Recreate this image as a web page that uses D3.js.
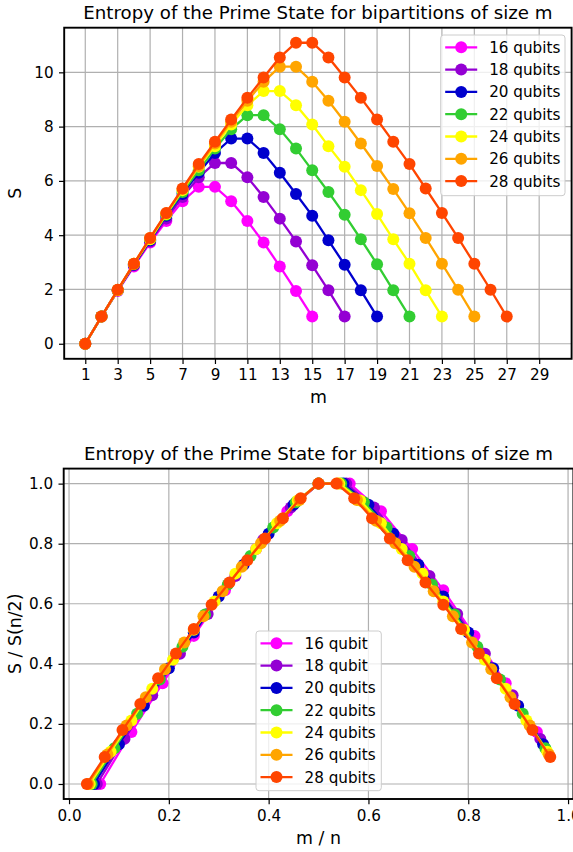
<!DOCTYPE html>
<html><head><meta charset="utf-8">
<script src="https://cdn.jsdelivr.net/npm/d3@7"></script>
<style>body{margin:0;background:#fff}svg{display:block}text{font-family:"DejaVu Sans",sans-serif;fill:#000}</style>
</head><body>
<svg id="chart" width="573" height="852"></svg>
<script>
// ---------- data ----------
const qubits = [16, 18, 20, 22, 24, 26, 28];
const colors = ["#ff00ff", "#9400d3", "#0000cd", "#32cd32", "#ffff00", "#ffa500", "#ff4500"];
const topLabels = ["16 qubits", "18 qubits", "20 qubits", "22 qubits", "24 qubits", "26 qubits", "28 qubits"];
const bottomLabels = ["16 qubit", "18 qubit", "20 qubits", "22 qubits", "24 qubits", "26 qubits", "28 qubits"];
// entropy S for m = 1 .. n-1
const S16 = [0, 1.00, 1.94, 2.85, 3.73, 4.52, 5.25, 5.78, 5.78, 5.25, 4.52, 3.73, 2.85, 1.94, 1.00];
const S18 = [0, 1.00, 1.97, 2.89, 3.77, 4.61, 5.41, 6.13, 6.66, 6.66, 6.13, 5.41, 4.61, 3.77, 2.89, 1.97, 1.00];
const S20 = [0, 1.00, 1.97, 2.91, 3.81, 4.72, 5.52, 6.30, 7.03, 7.56, 7.56, 7.03, 6.30, 5.52, 4.72, 3.81, 2.91, 1.97, 1.00];
const S22 = [0, 1.00, 1.97, 2.93, 3.85, 4.75, 5.59, 6.39, 7.19, 7.90, 8.42, 8.42, 7.90, 7.19, 6.39, 5.59, 4.75, 3.85, 2.93, 1.97, 1.00];
const S24 = [0, 1.00, 1.97, 2.95, 3.85, 4.78, 5.66, 6.52, 7.28, 8.08, 8.79, 9.31, 9.31, 8.79, 8.08, 7.28, 6.52, 5.66, 4.78, 3.85, 2.95, 1.97, 1.00];
const S26 = [0, 1.00, 1.99, 2.95, 3.90, 4.81, 5.70, 6.55, 7.38, 8.18, 8.95, 9.65, 10.21, 10.21, 9.65, 8.95, 8.18, 7.38, 6.55, 5.70, 4.81, 3.90, 2.95, 1.99, 1.00];
const S28 = [0, 1.00, 1.99, 2.95, 3.90, 4.82, 5.72, 6.62, 7.44, 8.26, 9.06, 9.81, 10.55, 11.09, 11.09, 10.55, 9.81, 9.06, 8.26, 7.44, 6.62, 5.72, 4.82, 3.90, 2.95, 1.99, 1.00];
const entropies = [S16, S18, S20, S22, S24, S26, S28];
const topXTicks = [1, 3, 5, 7, 9, 11, 13, 15, 17, 19, 21, 23, 25, 27, 29];
const topYTicks = [0, 2, 4, 6, 8, 10];
const botXTicks = [0.0, 0.2, 0.4, 0.6, 0.8, 1.0];
const botYTicks = [0.0, 0.2, 0.4, 0.6, 0.8, 1.0];
const titleText = "Entropy of the Prime State for bipartitions of size m";

// ---------- drawing ----------
const svg = d3.select("#chart");
const FS = 15.2;
const LFS = 17.4;

function panel(o) {
  const g = svg.append("g");
  const x = o.x, y = o.y;
  const [x0, x1] = x.range(), [y0, y1] = y.range(); // y0 bottom
  // grid
  g.append("g").selectAll("line").data(o.xt).join("line")
    .attr("x1", d => x(d)).attr("x2", d => x(d)).attr("y1", y1).attr("y2", y0)
    .attr("stroke", "#b0b0b0").attr("stroke-width", 1.2);
  g.append("g").selectAll("line").data(o.yt).join("line")
    .attr("y1", d => y(d)).attr("y2", d => y(d)).attr("x1", x0).attr("x2", x1)
    .attr("stroke", "#b0b0b0").attr("stroke-width", 1.2);
  // series
  o.series.forEach((s, i) => {
    const sg = g.append("g");
    sg.append("path").datum(s)
      .attr("d", d3.line().x(d => x(d[0])).y(d => y(d[1])))
      .attr("fill", "none").attr("stroke", colors[i]).attr("stroke-width", 2.3);
    sg.selectAll("circle").data(s).join("circle")
      .attr("cx", d => x(d[0])).attr("cy", d => y(d[1])).attr("r", 6)
      .attr("fill", colors[i]);
  });
  // axes (spines, ticks, labels)
  const xa = d3.axisBottom(x).tickValues(o.xt).tickFormat(o.xf).tickSize(5.2).tickPadding(5.6);
  const ya = d3.axisLeft(y).tickValues(o.yt).tickFormat(o.yf).tickSize(5.2).tickPadding(5.4);
  const gx = g.append("g").attr("transform", `translate(0,${y0})`).call(xa);
  const gy = g.append("g").attr("transform", `translate(${x0},0)`).call(ya);
  [gx, gy].forEach(a => {
    a.select(".domain").remove();
    a.selectAll("line").attr("stroke", "#000").attr("stroke-width", 1.2);
    a.selectAll("text").attr("font-size", FS).attr("font-family", "DejaVu Sans").attr("fill", "#000");
  });
  g.append("rect").attr("x", x0).attr("y", y1).attr("width", x1 - x0).attr("height", y0 - y1)
    .attr("fill", "none").attr("stroke", "#000").attr("stroke-width", 1.9);
  // titles
  g.append("text").attr("x", (x0 + x1) / 2).attr("y", y1 - 9).attr("text-anchor", "middle")
    .attr("font-size", 18.2).text(titleText);
  g.append("text").attr("x", 318.5).attr("y", o.xlabY).attr("text-anchor", "middle")
    .attr("font-size", LFS).text(o.xlab);
  g.append("text").attr("transform", `translate(20.5,${(y0 + y1) / 2}) rotate(-90)`)
    .attr("text-anchor", "middle").attr("font-size", LFS).text(o.ylab);
  // legend
  const L = o.leg;
  const lg = g.append("g");
  lg.append("rect").attr("x", L.x).attr("y", L.y).attr("width", L.w).attr("height", L.h)
    .attr("rx", 3).attr("fill", "#fff").attr("fill-opacity", 0.8).attr("stroke", "#cccccc").attr("stroke-width", 1);
  o.labels.forEach((lab, i) => {
    const cy = L.y + 12.3 + i * 22.3;
    lg.append("line").attr("x1", L.x + 4.5).attr("x2", L.x + 36.5).attr("y1", cy).attr("y2", cy)
      .attr("stroke", colors[i]).attr("stroke-width", 2.3);
    lg.append("circle").attr("cx", L.x + 20.5).attr("cy", cy).attr("r", 6).attr("fill", colors[i]);
    lg.append("text").attr("x", L.x + 48.5).attr("y", cy + 5.5).attr("font-size", FS).text(lab);
  });
}

// top panel
const topSeries = entropies.map(arr => arr.map((v, k) => [k + 1, v]));
panel({
  x: d3.scaleLinear().domain([-0.3, 31]).range([64.2, 571.6]),
  y: d3.scaleLinear().domain([-0.5545, 11.6445]).range([358.8, 27.7]),
  xt: topXTicks, yt: topYTicks,
  xf: d3.format("d"), yf: d3.format("d"),
  series: topSeries, labels: topLabels,
  xlab: "m", xlabY: 403, ylab: "S",
  leg: {x: 440.7, y: 35, w: 124.3, h: 160.7}
});

// bottom panel: m/n vs S/S(n/2)
const botSeries = entropies.map((arr, i) => {
  const n = qubits[i], smax = d3.max(arr);
  return arr.map((v, k) => [(k + 1) / n, v / smax]);
});
panel({
  x: d3.scaleLinear().domain([-0.0107, 1.0107]).range([63.7, 573.4]),
  y: d3.scaleLinear().domain([-0.05, 1.05]).range([799, 468.6]),
  xt: botXTicks, yt: botYTicks,
  xf: d3.format(".1f"), yf: d3.format(".1f"),
  series: botSeries, labels: bottomLabels,
  xlab: "m / n", xlabY: 844, ylab: "S / S(n/2)",
  leg: {x: 256, y: 631, w: 125.3, h: 159.7}
});
</script>
</body></html>
